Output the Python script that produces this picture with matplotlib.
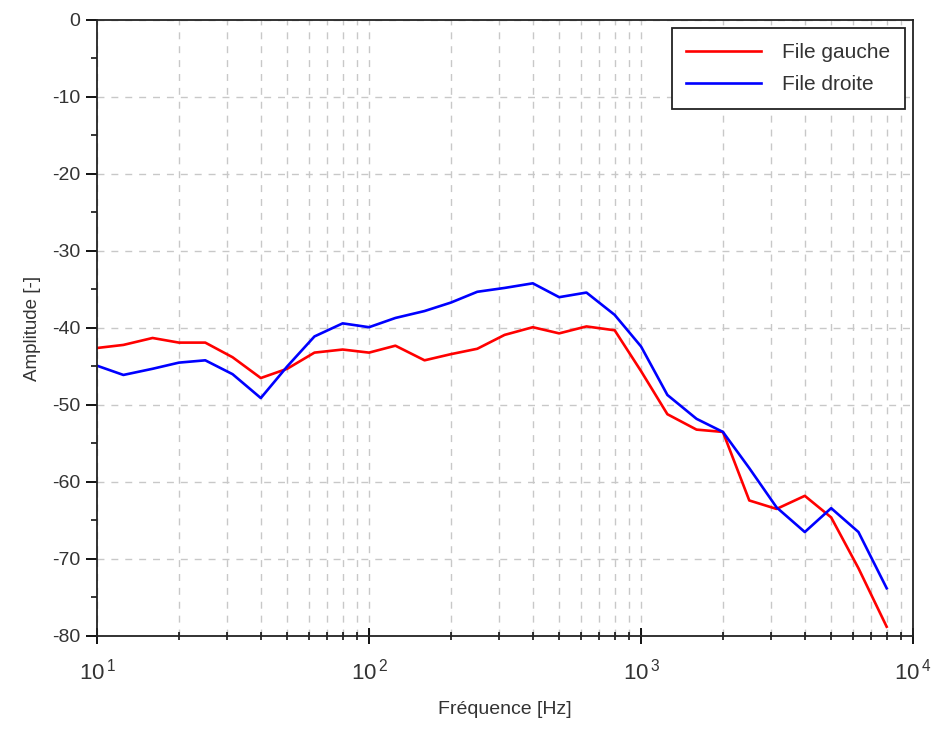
import matplotlib
matplotlib.use("Agg")
import matplotlib.pyplot as plt
from matplotlib.ticker import FixedLocator, FixedFormatter, LogLocator, NullFormatter, MultipleLocator

plt.rcParams['font.family'] = ['Liberation Sans', 'DejaVu Sans']
plt.rcParams['mathtext.fontset'] = 'custom'
plt.rcParams['mathtext.rm'] = 'Liberation Sans'
plt.rcParams['mathtext.it'] = 'Liberation Sans'
plt.rcParams['axes.unicode_minus'] = False

# Third-octave band centre frequencies (Hz)
freq = [10, 12.5, 16, 20, 25, 31.5, 40, 50, 63, 80, 100, 125, 160, 200, 250,
        315, 400, 500, 630, 800, 1000, 1250, 1600, 2000, 2500, 3150, 4000,
        5000, 6300, 8000]

file_gauche = [-42.6, -42.2, -41.3, -41.9, -41.9, -43.8, -46.5, -45.3, -43.2, -42.8,
               -43.2, -42.3, -44.2, -43.4, -42.7, -40.9, -39.9, -40.7, -39.8, -40.3,
               -45.6, -51.2, -53.2, -53.5, -62.4, -63.5, -61.8, -64.6, -71.2, -78.8]

file_droite = [-44.9, -46.1, -45.3, -44.5, -44.2, -46.0, -49.1, -45.0, -41.1, -39.4,
               -39.9, -38.7, -37.8, -36.7, -35.3, -34.8, -34.2, -36.0, -35.4, -38.3,
               -42.4, -48.7, -51.8, -53.5, -58.2, -63.3, -66.5, -63.4, -66.5, -73.8]

legend_labels = ["File gauche", "File droite"]
x_ticks = [10, 100, 1000, 10000]
x_tick_labels = [r"10$^{\,1}$", r"10$^{\,2}$", r"10$^{\,3}$", r"10$^{\,4}$"]
y_ticks = [0, -10, -20, -30, -40, -50, -60, -70, -80]

text_color = "#333333"

fig = plt.figure(figsize=(9.33, 7.29), dpi=100)
ax = fig.add_axes([0.104, 0.1276, 0.8746, 0.845])

ax.plot(freq, file_gauche, color="#ff0000", lw=1.9, label=legend_labels[0])
ax.plot(freq, file_droite, color="#0000ff", lw=1.9, label=legend_labels[1])

ax.set_xscale("log")
ax.set_xlim(10, 10000)
ax.set_ylim(-80, 0)

ax.xaxis.set_major_locator(FixedLocator(x_ticks))
ax.xaxis.set_major_formatter(FixedFormatter(x_tick_labels))
ax.xaxis.set_minor_locator(LogLocator(base=10, subs=range(2, 10)))
ax.xaxis.set_minor_formatter(NullFormatter())
ax.yaxis.set_major_locator(FixedLocator(y_ticks))
ax.yaxis.set_minor_locator(MultipleLocator(5))

grid_style = dict(color="#c8c8c8", linestyle=(0, (5, 5)), linewidth=1.0)
ax.grid(True, which="major", axis="both", **grid_style)
ax.grid(True, which="minor", axis="x", **grid_style)
ax.set_axisbelow(True)

ax.tick_params(axis="y", which="major", direction="out", length=8, width=1.3,
               labelsize=14, labelcolor=text_color, pad=4)
ax.tick_params(axis="y", which="minor", direction="out", length=4, width=1.1)
ax.tick_params(axis="x", which="major", direction="inout", length=11, width=1.3,
               labelsize=16, labelcolor=text_color, pad=11)
ax.tick_params(axis="x", which="minor", direction="inout", length=6, width=1.1)
ax.tick_params(top=False, right=False, which="both")

for s in ax.spines.values():
    s.set_linewidth(1.3)
    s.set_color("#222222")

ax.set_xlabel("Fréquence [Hz]", fontsize=14, color=text_color, labelpad=12)
ax.set_ylabel("Amplitude [-]", fontsize=13.5, color=text_color, labelpad=8)

leg = ax.legend(loc="upper right", fontsize=15, frameon=True, fancybox=False,
                edgecolor="#222222", framealpha=1.0, handlelength=3.6,
                borderpad=0.7, labelspacing=0.65, handletextpad=1.0,
                borderaxespad=0.4)
leg.get_frame().set_linewidth(1.3)
for t in leg.get_texts():
    t.set_color(text_color)

fig.savefig("out.png", dpi=100, facecolor="white")
